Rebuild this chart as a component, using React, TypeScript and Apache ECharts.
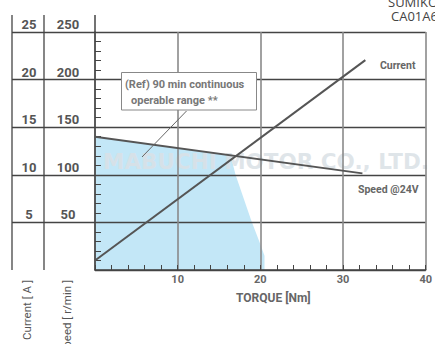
import React, { useEffect, useRef } from "react";
import * as echarts from "echarts";

// Torque axis ticks [Nm]
const torqueTicks = [0, 10, 20, 30, 40];
// Current axis [A] and speed axis [r/min]
const currentTicks = [0, 5, 10, 15, 20, 25];
const speedTicks = [0, 50, 100, 150, 200, 250];

// Series: [torque Nm, value]
const currentData: [number, number][] = [
  [0, 1.0],
  [32.7, 22.05],
];
const speedData: [number, number][] = [
  [0, 140],
  [32.35, 101.5],
];
// (Ref) 90 min continuous operable range boundary (torque, speed)
const rangeData: [number, number][] = [
  [0, 140],
  [16.4, 120.5],
  [17.0, 100],
  [18.9, 52],
  [20.0, 27],
  [20.5, 15],
  [20.5, 0],
];

const FONT = "Roboto, 'Liberation Sans', sans-serif";
const LINE = "#444";

export default function App() {
  const ref = useRef<HTMLDivElement>(null);
  useEffect(() => {
    if (!ref.current) return;
    const chart = echarts.init(ref.current, undefined, { renderer: "svg" });
    chart.setOption({
      animation: false,
      backgroundColor: "#ffffff",
      grid: { left: 95, right: 4, top: 32, bottom: 74 },
      xAxis: {
        type: "value",
        min: torqueTicks[0],
        max: torqueTicks[torqueTicks.length - 1],
        interval: 10,
        z: 2,
        name: "TORQUE [Nm]",
        nameLocation: "middle",
        nameGap: 22,
        nameTextStyle: {
          color: "#666",
          fontSize: 12,
          fontWeight: "bold",
          fontFamily: FONT,
          padding: [0, 0, 0, 26],
        },
        axisLine: { show: true, lineStyle: { color: LINE, width: 1.5 } },
        axisTick: { show: true, inside: true, length: 5, lineStyle: { color: LINE, width: 1 } },
        minorTick: { show: true, splitNumber: 5, length: 5, lineStyle: { color: LINE, width: 1 } },
        axisLabel: {
          showMinLabel: false,
          margin: 4,
          color: "#666",
          fontSize: 11,
          fontWeight: "bold",
          fontFamily: FONT,
        },
        splitLine: { show: true, lineStyle: { color: "#8a8a8a", width: 1.6 } },
      },
      yAxis: [
        {
          type: "value",
          min: currentTicks[0],
          max: currentTicks[currentTicks.length - 1],
          interval: 5,
          position: "left",
          z: 2,
          axisLine: { show: true, onZero: false, lineStyle: { color: LINE, width: 1.5 } },
          axisTick: { show: true, inside: true, length: 6, lineStyle: { color: LINE, width: 1 } },
          minorTick: { show: true, splitNumber: 5, length: 6, lineStyle: { color: LINE, width: 1 } },
          axisLabel: {
            showMinLabel: false,
            margin: 66,
            align: "center",
            verticalAlign: "bottom",
            padding: [0, 0, 1, 0],
            color: "#555",
            fontSize: 13,
            fontWeight: "bold",
            fontFamily: FONT,
          },
          splitLine: { show: true, lineStyle: { color: LINE, width: 1.3 } },
        },
        {
          type: "value",
          min: speedTicks[0],
          max: speedTicks[speedTicks.length - 1],
          interval: 50,
          position: "left",
          offset: 0,
          z: 2,
          axisLine: { show: false },
          axisTick: { show: true, inside: false, length: 83, lineStyle: { color: LINE, width: 1.3 } },
          axisLabel: {
            showMinLabel: false,
            margin: 27,
            align: "center",
            verticalAlign: "bottom",
            padding: [0, 0, 1, 0],
            color: "#555",
            fontSize: 13,
            fontWeight: "bold",
            fontFamily: FONT,
          },
          splitLine: { show: false },
        },
      ],
      series: [
        {
          type: "line",
          name: "range",
          yAxisIndex: 1,
          data: rangeData,
          symbol: "none",
          z: 0,
          lineStyle: { width: 0, opacity: 0 },
          areaStyle: { color: "#c3e7f7", opacity: 1 },
          silent: true,
        },
        {
          type: "line",
          name: "Current",
          yAxisIndex: 0,
          data: currentData,
          symbol: "none",
          z: 3,
          lineStyle: { color: "#555", width: 2 },
        },
        {
          type: "line",
          name: "Speed @24V",
          yAxisIndex: 1,
          data: speedData,
          symbol: "none",
          z: 3,
          lineStyle: { color: "#555", width: 2 },
        },
      ],
      graphic: [
        // table verticals
        { type: "line", z: 5, shape: { x1: 12, y1: 15, x2: 12, y2: 270 }, style: { stroke: LINE, lineWidth: 1.3 } },
        { type: "line", z: 5, shape: { x1: 44, y1: 15, x2: 44, y2: 270 }, style: { stroke: LINE, lineWidth: 1.3 } },
        { type: "line", z: 5, shape: { x1: 95, y1: 15, x2: 95, y2: 32 }, style: { stroke: LINE, lineWidth: 1.5 } },
        // watermark
        {
          type: "text",
          z: 1,
          x: 103,
          y: 161,
          style: {
            text: "MABUCHI MOTOR CO., LTD.",
            fill: "rgba(218,225,230,0.85)",
            font: "bold 21.5px 'DejaVu Sans', sans-serif",
            align: "left",
            verticalAlign: "middle",
          },
        },
        // annotation box
        {
          type: "rect",
          z: 10,
          shape: { x: 121.5, y: 72.5, width: 135, height: 37.5 },
          style: { fill: "#fff", stroke: "#888", lineWidth: 1 },
        },
        {
          type: "text",
          z: 11,
          x: 125,
          y: 84.5,
          style: { text: "(Ref) 90 min continuous", fill: "#777", font: `bold 11px ${FONT}`, align: "left", verticalAlign: "middle" },
        },
        {
          type: "text",
          z: 11,
          x: 131,
          y: 100.5,
          style: { text: "operable range **", fill: "#777", font: `bold 11px ${FONT}`, align: "left", verticalAlign: "middle" },
        },
        {
          type: "line",
          z: 10,
          shape: { x1: 186.5, y1: 111, x2: 142, y2: 157 },
          style: { stroke: "#666", lineWidth: 1 },
        },
        // series labels
        {
          type: "text",
          z: 11,
          x: 380,
          y: 65,
          style: { text: "Current", fill: "#666", font: `bold 10.5px ${FONT}`, align: "left", verticalAlign: "middle" },
        },
        {
          type: "text",
          z: 11,
          x: 358,
          y: 189.5,
          style: { text: "Speed @24V", fill: "#666", font: `bold 10.5px ${FONT}`, align: "left", verticalAlign: "middle" },
        },
        // axis titles (rotated)
        {
          type: "text",
          z: 11,
          x: 27,
          y: 280,
          rotation: Math.PI / 2,
          style: { text: "Current [ A ]", fill: "#555", font: `11.5px ${FONT}`, align: "right", verticalAlign: "middle" },
        },
        {
          type: "text",
          z: 11,
          x: 67,
          y: 280,
          rotation: Math.PI / 2,
          style: { text: "Speed [ r/min ]", fill: "#555", font: `11.5px ${FONT}`, align: "right", verticalAlign: "middle" },
        },
        // top-right title (cut off)
        {
          type: "text",
          z: 11,
          x: 388,
          y: 2,
          style: { text: "SUMIKO", fill: "#444", font: "13px 'Open Sans', sans-serif", align: "left", verticalAlign: "middle" },
        },
        {
          type: "text",
          z: 11,
          x: 391,
          y: 15.5,
          style: { text: "CA01A6", fill: "#444", font: "13px 'Open Sans', sans-serif", align: "left", verticalAlign: "middle" },
        },
      ],
    });
    return () => chart.dispose();
  }, []);
  return (
    <div
      ref={ref}
      style={{ position: "fixed", left: 0, top: 0, width: 435, height: 344 }}
    />
  );
}
